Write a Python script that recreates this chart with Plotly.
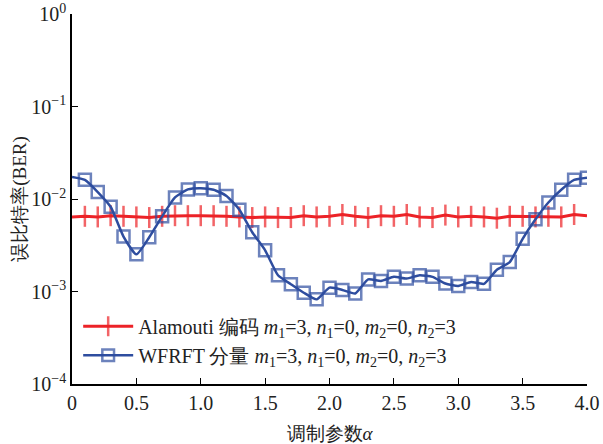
import plotly.graph_objects as go

alpha = [round(i * 0.1, 1) for i in range(41)]

ber_alamouti = [0.0064, 0.0065, 0.0064, 0.0066, 0.0065, 0.0064, 0.0063, 0.0065, 0.0066, 0.0066,
                0.0066, 0.0066, 0.0065, 0.0064, 0.0063, 0.0064, 0.0063, 0.0063, 0.0066, 0.0064,
                0.0065, 0.0068, 0.0065, 0.0063, 0.0066, 0.0065, 0.0068, 0.0064, 0.0063, 0.0067,
                0.0064, 0.0065, 0.0064, 0.0062, 0.0065, 0.0065, 0.0064, 0.0065, 0.0064, 0.0068,
                0.0066]

ber_wfrft = [0.0173, 0.0161, 0.0119, 0.00824, 0.00393, 0.00252, 0.00386, 0.00649, 0.0104, 0.0127,
             0.0131, 0.0126, 0.0108, 0.00766, 0.00437, 0.00279, 0.00150, 0.00120, 0.00097, 0.000822,
             0.00110, 0.00104, 0.000953, 0.00135, 0.00130, 0.00144, 0.00138, 0.00150, 0.00144, 0.00122,
             0.00115, 0.00127, 0.00121, 0.00172, 0.00208, 0.00371, 0.00603, 0.00917, 0.0126, 0.0161,
             0.0170]

x_ticks = [0, 0.5, 1.0, 1.5, 2.0, 2.5, 3.0, 3.5, 4.0]
x_ticktext = ["0", "0.5", "1.0", "1.5", "2.0", "2.5", "3.0", "3.5", "4.0"]
y_ticks = [1e-4, 1e-3, 1e-2, 1e-1, 1]
y_ticktext = ["10<sup>\u22124</sup>", "10<sup>\u22123</sup>", "10<sup>\u22122</sup>",
              "10<sup>\u22121</sup>", "10<sup>0</sup>"]

name_a = "Alamouti 编码 <i>m</i><sub>1</sub>=3, <i>n</i><sub>1</sub>=0, <i>m</i><sub>2</sub>=0, <i>n</i><sub>2</sub>=3"
name_w = "WFRFT 分量 <i>m</i><sub>1</sub>=3, <i>n</i><sub>1</sub>=0, <i>m</i><sub>2</sub>=0, <i>n</i><sub>2</sub>=3"

RED = "#ec2227"
BLUE = "#2e4d9f"
FONT = "Liberation Serif"

red_sizes = [0] + [15] * 39 + [0]
blue_sizes = [0] + [12] * 40

fig = go.Figure()
fig.add_trace(go.Scatter(
    x=alpha, y=ber_alamouti, mode="lines+markers", name=name_a,
    line=dict(color=RED, width=3),
    marker=dict(symbol="line-ns-open", size=red_sizes, color=RED,
                line=dict(color=RED, width=2.5)),
))
fig.add_trace(go.Scatter(
    x=alpha, y=ber_wfrft, mode="lines+markers", name=name_w,
    line=dict(color=BLUE, width=2.5, shape="spline", smoothing=0.5),
    marker=dict(symbol="square-open", size=blue_sizes, color=BLUE,
                line=dict(color=BLUE, width=2.5)),
))

fig.update_layout(
    width=603, height=444,
    margin=dict(l=72, r=16, t=14, b=60, autoexpand=False),
    paper_bgcolor="white", plot_bgcolor="white",
    font=dict(family=FONT, size=19, color="#222222"),
    showlegend=True,
    legend=dict(x=0.012, y=0.025, xanchor="left", yanchor="bottom",
                bgcolor="rgba(0,0,0,0)", font=dict(size=20, family=FONT),
                itemwidth=50, tracegroupgap=0),
    xaxis=dict(range=[0, 4], tickvals=x_ticks, ticktext=x_ticktext,
               showline=True, linecolor="black", linewidth=1.5, mirror=False,
               ticks="inside", ticklen=6, tickcolor="black", tickwidth=1.2,
               showgrid=False, zeroline=False, automargin=False,
               ticklabeloverflow="allow",
               title=dict(text="调制参数<i>α</i>", font=dict(size=19, family=FONT), standoff=14),
               tickfont=dict(size=20, family=FONT)),
    yaxis=dict(type="log", range=[-4, 0], tickvals=y_ticks, ticktext=y_ticktext,
               showline=True, linecolor="black", linewidth=1.5, mirror=False,
               ticks="inside", ticklen=6, tickcolor="black", tickwidth=1.2,
               showgrid=False, zeroline=False, automargin=False,
               ticklabeloverflow="allow",
               title=dict(text="误比特率(BER)", font=dict(size=19, family=FONT), standoff=0),
               tickfont=dict(size=20, family=FONT)),
)

fig.write_html("out.html")
